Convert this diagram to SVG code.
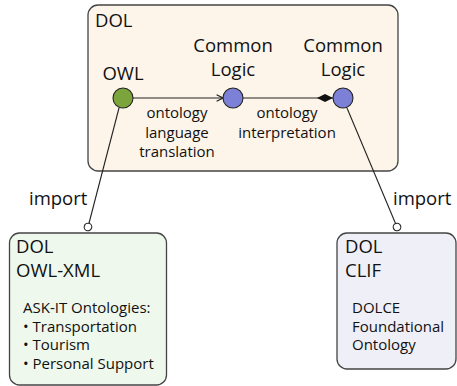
<svg xmlns="http://www.w3.org/2000/svg" width="457" height="386" viewBox="0 0 457 386">
<style>
text{font-family:"Open Sans","Noto Sans",sans-serif;fill:#111}
.big{font-size:18.5px}
.mid{font-size:15px}
.c{text-anchor:middle}
.box{stroke:#444;stroke-width:1.3}
.conn{stroke:#222;stroke-width:1.1;fill:none}
.node{stroke:#222;stroke-width:1.1}
</style>
<defs>
<marker id="arr" viewBox="0 0 10 10" refX="9" refY="5" markerWidth="8" markerHeight="8" markerUnits="userSpaceOnUse" orient="auto">
<path d="M1,1 L9,5 L1,9" fill="none" stroke="#222" stroke-width="1.5"/>
</marker>
<marker id="dia" viewBox="0 0 16 8" refX="16" refY="4" markerWidth="16" markerHeight="8" markerUnits="userSpaceOnUse" orient="auto">
<path d="M0,4 L8,0 L16,4 L8,8 Z" fill="#111"/>
</marker>
<marker id="lol" viewBox="0 0 10 10" refX="5" refY="5" markerWidth="10" markerHeight="10" markerUnits="userSpaceOnUse" orient="auto">
<circle cx="5" cy="5" r="3.8" fill="#fff" stroke="#222" stroke-width="1.1"/>
</marker>
</defs>
<g id="dol-box">
<rect class="box" x="88" y="5" width="310" height="166" rx="10" fill="#fdf5ea"/>
<text class="big" x="95" y="27">DOL</text>
</g>
<g id="owl-xml">
<rect class="box" x="9.5" y="233" width="157" height="152" rx="10" fill="#eff8ec"/>
<text class="big" x="16" y="253">DOL</text>
<text class="big" x="16" y="277">OWL-XML</text>
<text class="mid" x="23" y="313">ASK-IT Ontologies:</text>
<text class="mid" x="23" y="331.5">• Transportation</text>
<text class="mid" x="23" y="350">• Tourism</text>
<text class="mid" x="23" y="368.5">• Personal Support</text>
</g>
<g id="clif">
<rect class="box" x="337" y="233" width="119" height="136" rx="10" fill="#efeff8"/>
<text class="big" x="345" y="253">DOL</text>
<text class="big" x="345" y="277">CLIF</text>
<text class="mid" x="352" y="313">DOLCE</text>
<text class="mid" x="352" y="331.5">Foundational</text>
<text class="mid" x="352" y="350">Ontology</text>
</g>
<g id="connectors">
<line class="conn" x1="133" y1="98" x2="223" y2="98" marker-end="url(#arr)"/>
<line class="conn" x1="243" y1="98" x2="333" y2="98" marker-end="url(#dia)"/>
<line class="conn" x1="119" y1="108" x2="88" y2="227" marker-end="url(#lol)"/>
<line class="conn" x1="347" y1="108" x2="397" y2="227" marker-end="url(#lol)"/>
<text class="mid c" x="177" y="118">ontology</text>
<text class="mid c" x="177" y="137.5">language</text>
<text class="mid c" x="177" y="157">translation</text>
<text class="mid c" x="287" y="118">ontology</text>
<text class="mid c" x="287" y="137.5">interpretation</text>
<text class="big" x="29" y="205">import</text>
<text class="big" x="393" y="205">import</text>
</g>
<g id="owl">
<circle class="node" cx="123" cy="98" r="10" fill="#7ba53c"/>
<text class="big c" x="123" y="80">OWL</text>
</g>
<g id="common-logic-1">
<circle class="node" cx="233" cy="98" r="10" fill="#7c80d6"/>
<text class="big c" x="233" y="52">Common</text>
<text class="big c" x="233" y="76">Logic</text>
</g>
<g id="common-logic-2">
<circle class="node" cx="343" cy="98" r="10" fill="#7c80d6"/>
<text class="big c" x="343" y="52">Common</text>
<text class="big c" x="343" y="76">Logic</text>
</g>
</svg>
